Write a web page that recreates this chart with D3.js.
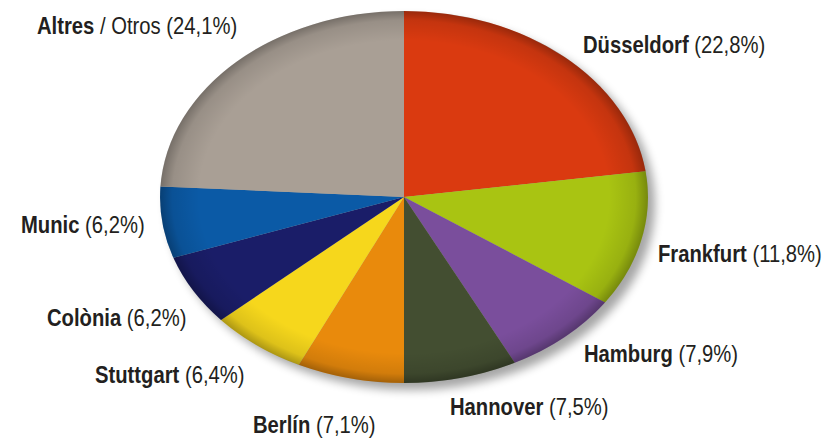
<!DOCTYPE html>
<html><head><meta charset="utf-8">
<script src="https://cdn.jsdelivr.net/npm/d3@7"></script>
<style>body{margin:0;background:#fff}svg{display:block}</style>
</head><body>
<svg id="c" width="833" height="440"></svg>
<script>
const names = ["Düsseldorf","Frankfurt","Hamburg","Hannover","Berlín","Stuttgart","Colònia","Munic","Altres"];
const values = [22.8,11.8,7.9,7.5,7.1,6.4,6.2,6.2,24.1];
const pctLabels = ["(22,8%)","(11,8%)","(7,9%)","(7,5%)","(7,1%)","(6,4%)","(6,2%)","(6,2%)","(24,1%)"];
const colors = ["#da3a10","#a9c412","#7a4e9c","#434e31","#e98a0c","#f6d71c","#1a1d68","#0b5aa6","#a99f95"];
// label anchor (left x, baseline y)
const labelPos = [[583,53],[658,262],[584,362],[450,415],[253,433],[95,383],[47,326],[21,233],[37,34]];

const svg = d3.select("#c");
const cx = 404, cy = 197, rx = 244, ry = 186;
const defs = svg.append("defs");
const f = defs.append("filter").attr("id","sh").attr("x","-20%").attr("y","-20%").attr("width","140%").attr("height","140%");
f.append("feGaussianBlur").attr("stdDeviation",5);
const rg = defs.append("radialGradient").attr("id","edge").attr("cx","50%").attr("cy","50%").attr("r","50%");
rg.append("stop").attr("offset","0%").attr("stop-color","#000").attr("stop-opacity",0);
rg.append("stop").attr("offset","84%").attr("stop-color","#000").attr("stop-opacity",0);
rg.append("stop").attr("offset","95%").attr("stop-color","#000").attr("stop-opacity",0.1);
rg.append("stop").attr("offset","100%").attr("stop-color","#000").attr("stop-opacity",0.3);

// shadow
svg.append("ellipse").attr("cx",cx+7).attr("cy",cy+7).attr("rx",rx).attr("ry",ry)
  .attr("fill","#000").attr("opacity",0.35).attr("filter","url(#sh)");

const pie = d3.pie().sort(null).value(d=>d);
const arc = d3.arc().innerRadius(0).outerRadius(1);
const g = svg.append("g").attr("transform",`translate(${cx},${cy}) scale(${rx},${ry})`);
g.selectAll("path").data(pie(values)).join("path")
  .attr("d",arc).attr("fill",(d,i)=>colors[i]);
g.append("circle").attr("r",1).attr("fill","url(#edge)");

const t = svg.append("g").attr("font-family","'Liberation Sans',Arial,sans-serif")
  .attr("font-size",23).attr("fill","#231f20");
names.forEach((n,i)=>{
  const tx = t.append("text")
    .attr("transform",`translate(${labelPos[i][0]},${labelPos[i][1]}) scale(0.88,1)`);
  tx.append("tspan").attr("font-weight","bold").text(n);
  if (i===8) tx.append("tspan").text(" / Otros");
  tx.append("tspan").text(" "+pctLabels[i]);
});
</script>
</body></html>
